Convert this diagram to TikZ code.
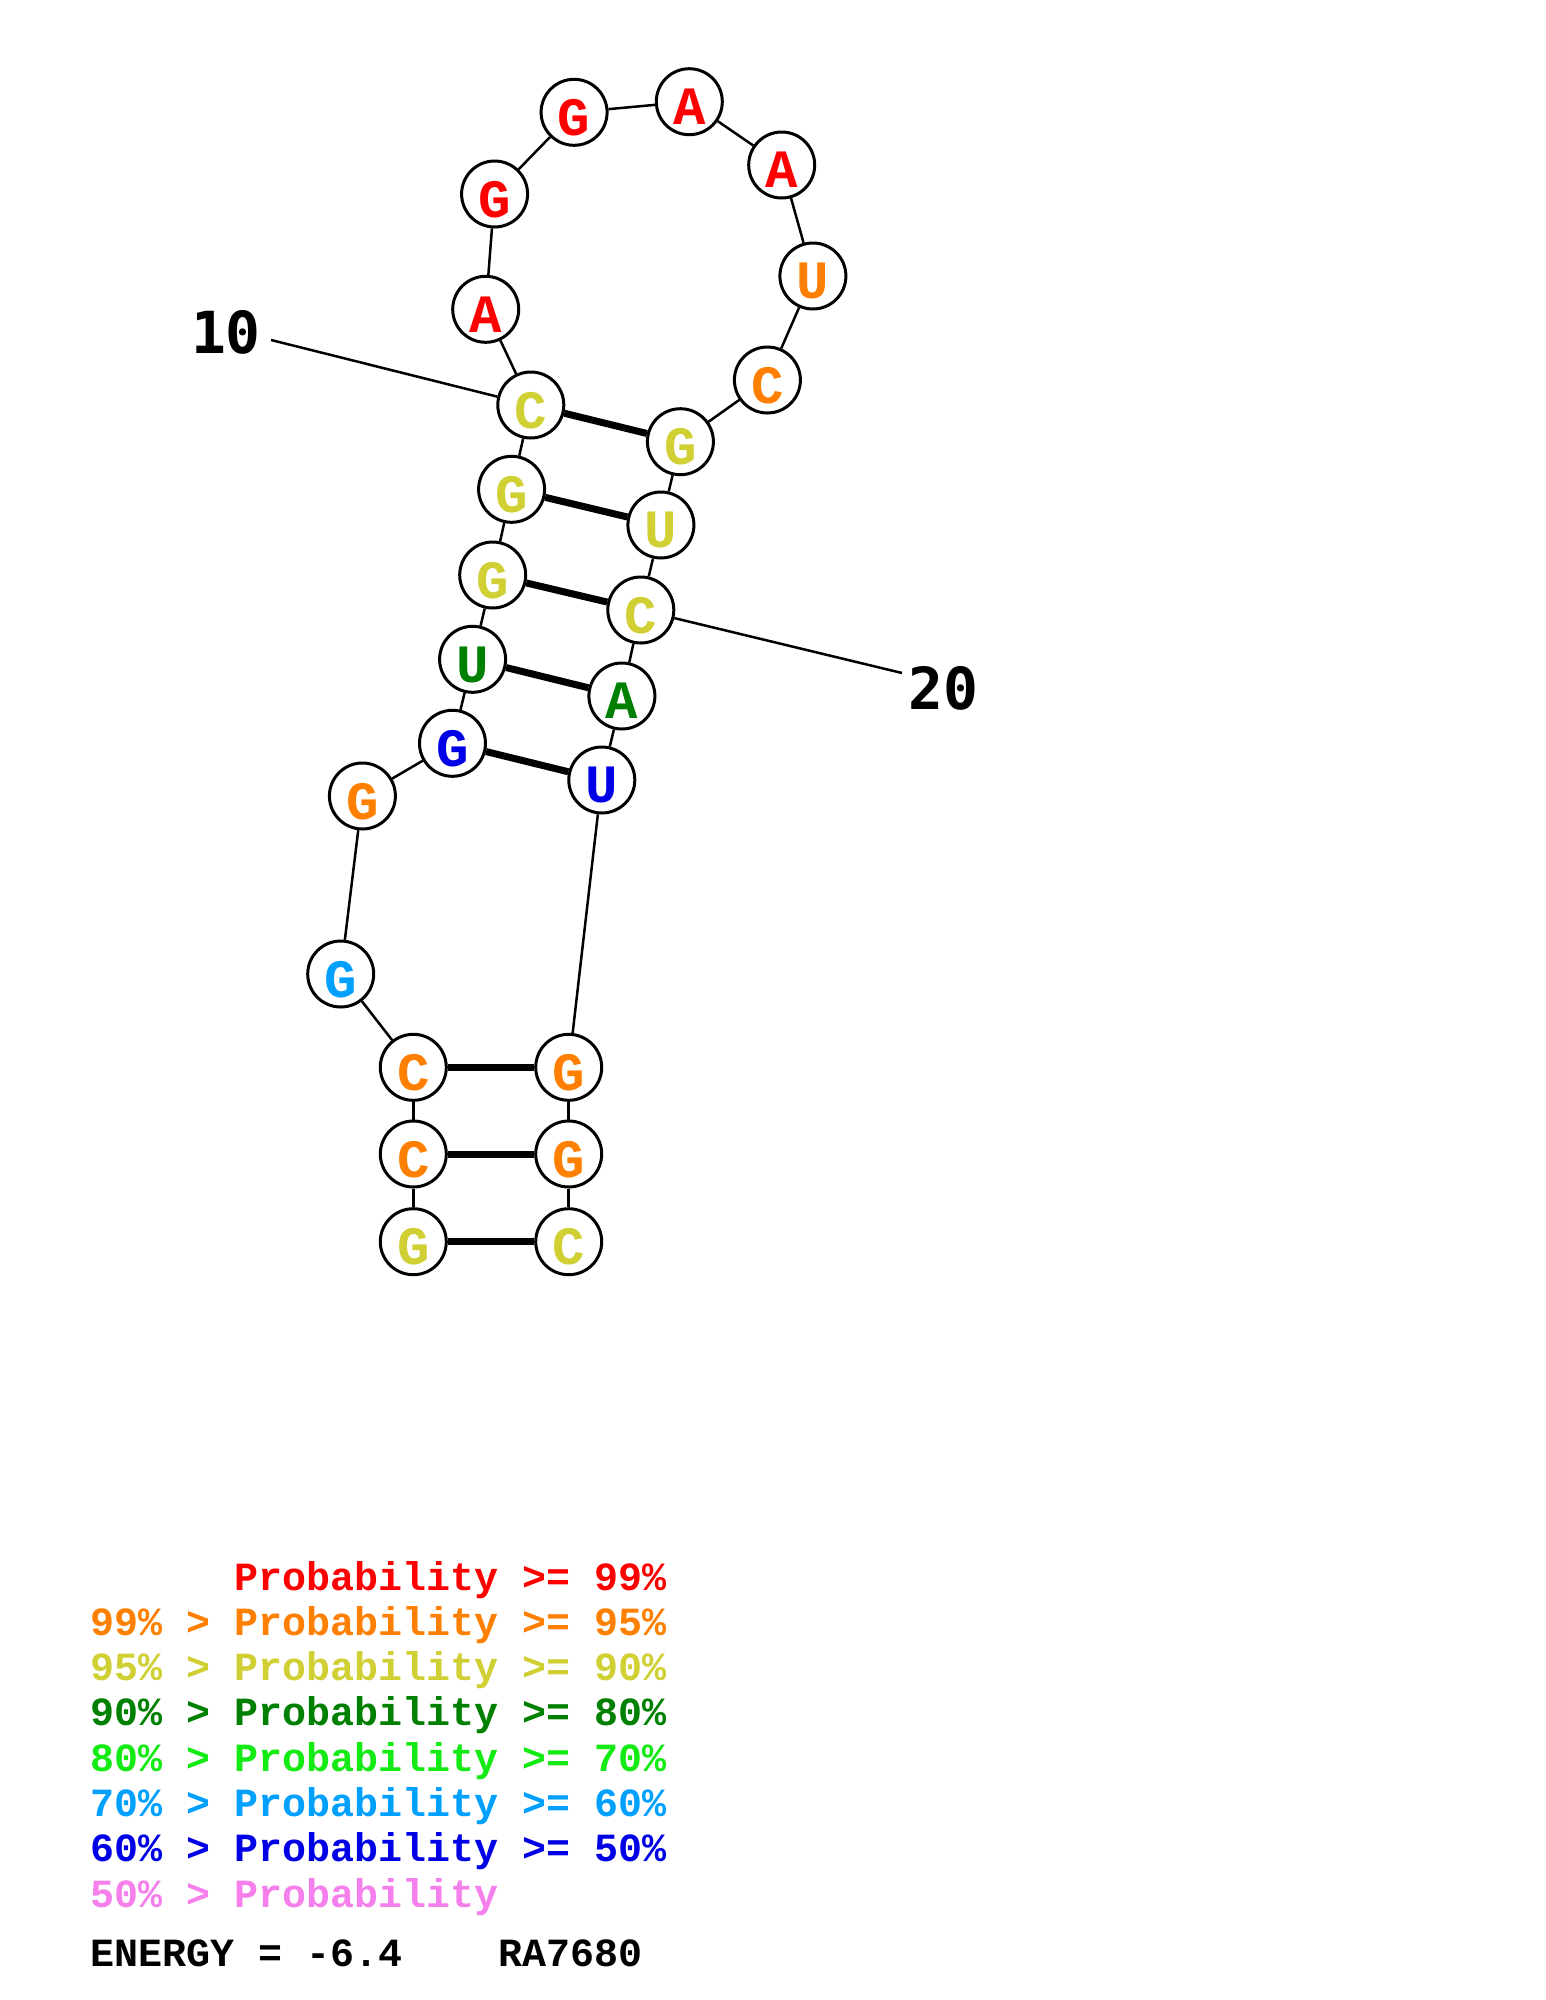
\documentclass[tikz,border=0pt]{standalone}
\usepackage{fontspec}
\setmonofont{Liberation Mono}
\newfontfamily\labfont{DejaVu Sans Mono}
\definecolor{pr99}{RGB}{255,0,0}
\definecolor{pr95}{RGB}{255,128,0}
\definecolor{pr90}{RGB}{208,208,52}
\definecolor{pr80}{RGB}{0,128,0}
\definecolor{pr70}{RGB}{20,235,20}
\definecolor{pr60}{RGB}{0,160,255}
\definecolor{pr50}{RGB}{0,0,230}
\definecolor{pr00}{RGB}{245,128,235}
\newcommand{\ntx}[1]{\raisebox{-5pt}[\height][0pt]{#1}}
\begin{document}
\begin{tikzpicture}[x=1pt,y=-1pt,
  nt/.style={circle, draw=black, line width=3pt, fill=white, minimum size=66pt, inner sep=0pt,
    font=\ttfamily\bfseries\fontsize{54}{54}\selectfont},
  bb/.style={line width=2.5pt},
  bp/.style={line width=7pt},
  num/.style={font=\labfont\bfseries\fontsize{58}{58}\selectfont, inner sep=0pt},
  leg/.style={anchor=base west, inner sep=0pt, font=\ttfamily\bfseries\fontsize{40}{40}\selectfont}]
\useasboundingbox (0,0) rectangle (1545,2000);
\fill[white] (0,0) rectangle (1545,2000);
% nucleotides
\node[nt, text=pr90] (n1)  at (413.3,1241.7) {\ntx{G}};
\node[nt, text=pr95] (n2)  at (413.3,1154) {\ntx{C}};
\node[nt, text=pr95] (n3)  at (413.3,1067.3) {\ntx{C}};
\node[nt, text=pr60] (n4)  at (340.7,974) {\ntx{G}};
\node[nt, text=pr95] (n5)  at (362.4,796) {\ntx{G}};
\node[nt, text=pr50] (n6)  at (452.5,743.3) {\ntx{G}};
\node[nt, text=pr80] (n7)  at (472.6,659.3) {\ntx{U}};
\node[nt, text=pr90] (n8)  at (492.7,575) {\ntx{G}};
\node[nt, text=pr90] (n9)  at (511.6,489.3) {\ntx{G}};
\node[nt, text=pr90] (n10) at (530.8,405) {\ntx{C}};
\node[nt, text=pr99] (n11) at (485.7,309.3) {\ntx{A}};
\node[nt, text=pr99] (n12) at (494.6,194) {\ntx{G}};
\node[nt, text=pr99] (n13) at (574.1,112.3) {\ntx{G}};
\node[nt, text=pr99] (n14) at (689.3,101.7) {\ntx{A}};
\node[nt, text=pr99] (n15) at (781.7,165) {\ntx{A}};
\node[nt, text=pr95] (n16) at (812.9,276) {\ntx{U}};
\node[nt, text=pr95] (n17) at (767.4,380) {\ntx{C}};
\node[nt, text=pr90] (n18) at (680.4,441.7) {\ntx{G}};
\node[nt, text=pr90] (n19) at (660.9,525) {\ntx{U}};
\node[nt, text=pr90] (n20) at (640.8,610) {\ntx{C}};
\node[nt, text=pr80] (n21) at (621.9,696) {\ntx{A}};
\node[nt, text=pr50] (n22) at (601.8,780) {\ntx{U}};
\node[nt, text=pr95] (n23) at (568.7,1067.3) {\ntx{G}};
\node[nt, text=pr95] (n24) at (568.7,1154) {\ntx{G}};
\node[nt, text=pr90] (n25) at (568.7,1241.7) {\ntx{C}};
% backbone
\foreach \a/\b in {1/2,2/3,3/4,4/5,5/6,6/7,7/8,8/9,9/10,10/11,11/12,12/13,13/14,14/15,15/16,16/17,17/18,18/19,19/20,20/21,21/22,22/23,23/24,24/25}
  \draw[bb] (n\a) -- (n\b);
% pairs
\foreach \a/\b in {1/25,2/24,3/23,6/22,7/21,8/20,9/19,10/18}
  \draw[bp] (n\a) -- (n\b);
% numbering
\node[num] (l10) at (226,332) {10};
\coordinate (c10) at (271,340);
\draw[bb] (c10) -- (n10);
\node[num] (l20) at (943.6,688) {20};
\coordinate (c20) at (902,673);
\draw[bb] (n20) -- (c20);
% legend
\node[leg, text=pr99] (g1) at (90,1590) {\phantom{99\%~>~}Probability~>=~99\%};
\node[leg, text=pr95] (g2) at (90,1635.3) {99\%~>~Probability~>=~95\%};
\node[leg, text=pr90] (g3) at (90,1680.6) {95\%~>~Probability~>=~90\%};
\node[leg, text=pr80] (g4) at (90,1725.9) {90\%~>~Probability~>=~80\%};
\node[leg, text=pr70] (g5) at (90,1771.2) {80\%~>~Probability~>=~70\%};
\node[leg, text=pr60] (g6) at (90,1816.5) {70\%~>~Probability~>=~60\%};
\node[leg, text=pr50] (g7) at (90,1861.8) {60\%~>~Probability~>=~50\%};
\node[leg, text=pr00] (g8) at (90,1907.1) {50\%~>~Probability};
\node[leg, text=black] (g9) at (90,1966.7) {ENERGY~=~-6.4~~~~RA7680};
\end{tikzpicture}
\end{document}
